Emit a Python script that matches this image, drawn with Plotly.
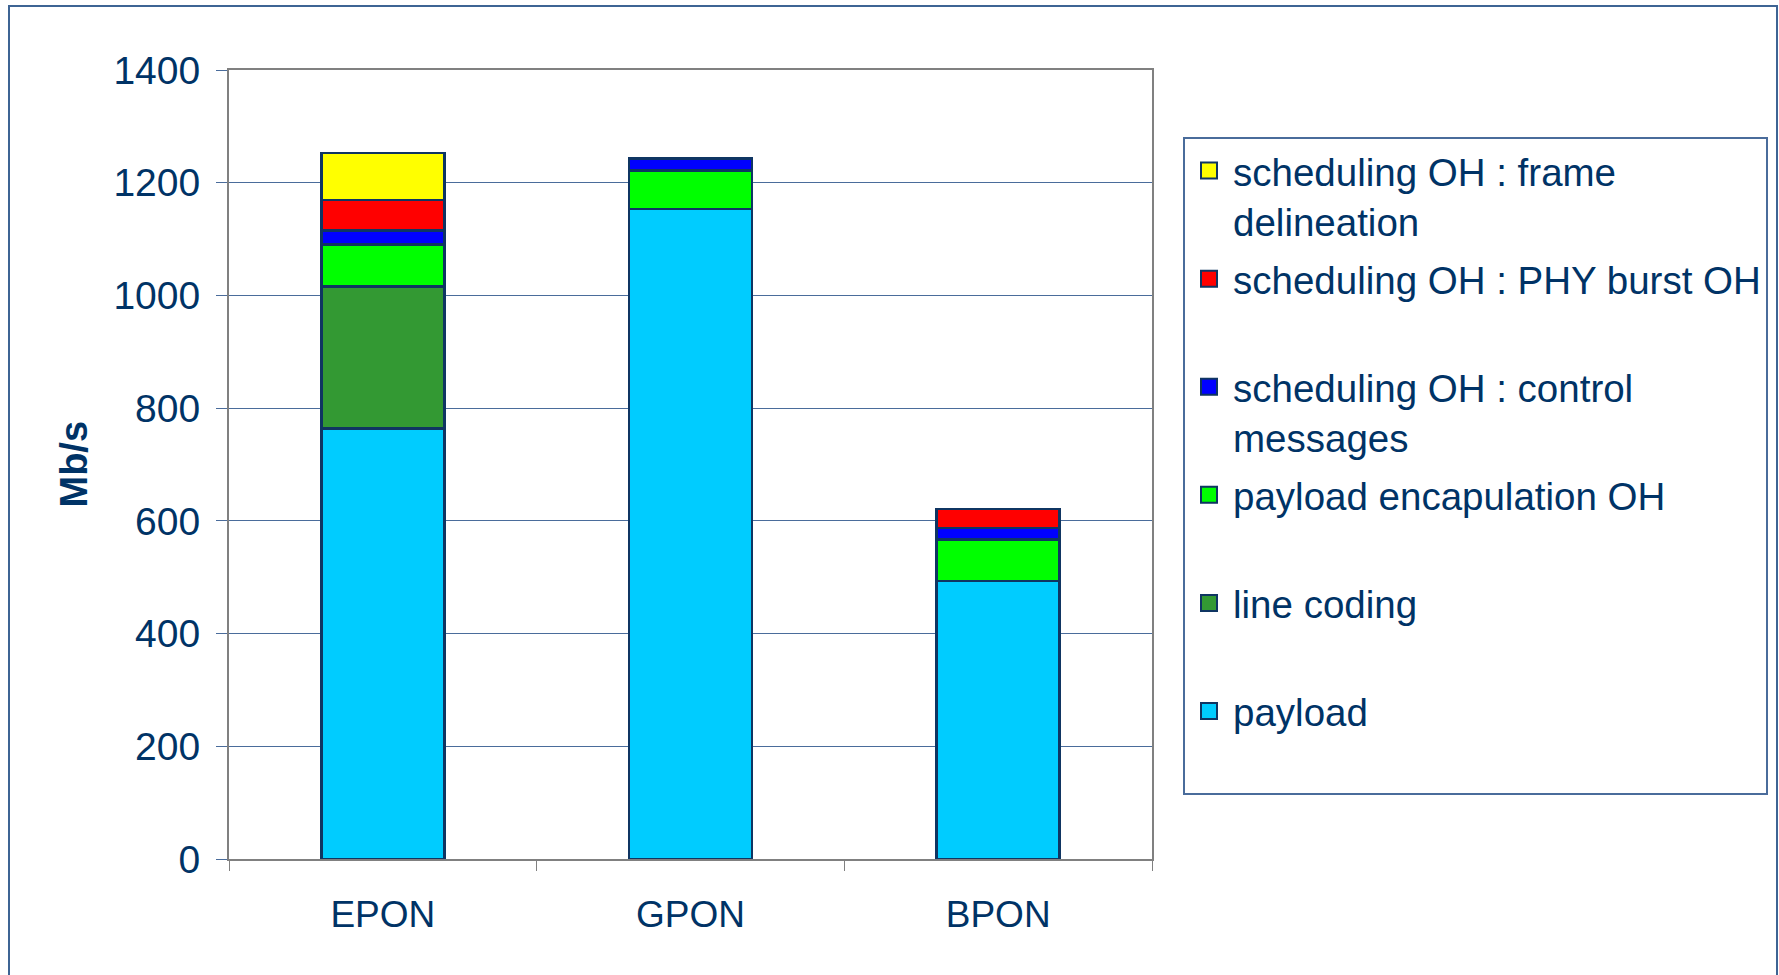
import plotly.graph_objects as go

categories = ["EPON", "GPON", "BPON"]

payload = [764, 1153, 493]
line_coding = [252, None, None]
payload_encap_oh = [74, 69, 74]
control_messages = [25, 21, 20]
phy_burst_oh = [54, None, 34]
frame_delineation = [84, None, None]

series = [
    ("payload<br> ", payload, "#00CCFF"),
    ("line coding<br> ", line_coding, "#339933"),
    ("payload encapulation OH<br> ", payload_encap_oh, "#00FF00"),
    ("scheduling OH : control<br>messages", control_messages, "#0000FF"),
    ("scheduling OH : PHY burst OH<br> ", phy_burst_oh, "#FF0000"),
    ("scheduling OH : frame<br>delineation", frame_delineation, "#FFFF00"),
]

TEXT = "#003366"
FONT = "Liberation Sans, Arial, sans-serif"
EDGE = "#0F3562"

fig = go.Figure()
n = len(series)
for i, (name, vals, col) in enumerate(series):
    fig.add_trace(go.Bar(
        x=categories, y=vals, name=name, legendgroup=f"g{i}",
        showlegend=False,
        marker=dict(color=col, line=dict(color=EDGE, width=2.5)),
    ))
# legend entries (square swatches like the original)
for i, (name, vals, col) in enumerate(series):
    fig.add_trace(go.Scatter(
        x=[categories[0]], y=[None], mode="markers", name=name,
        legendgroup=f"g{i}", legendrank=n - i, hoverinfo="skip",
        marker=dict(symbol="square", size=16, color=col,
                    line=dict(color=EDGE, width=2)),
    ))

W, H = 1779, 975
L, R, T, B = 229, 1152, 70, 859
pw, ph = R - L, B - T

def px(x):
    return (x - L) / pw

def py(y):
    return (B - y) / ph

fig.update_layout(
    width=W, height=H,
    margin=dict(l=L, r=W - R, t=T, b=H - B, autoexpand=False),
    barmode="stack", bargap=0.6,
    plot_bgcolor="white", paper_bgcolor="white",
    font=dict(family=FONT, color=TEXT, size=37),
    showlegend=True,
    legend=dict(
        x=px(1183), y=py(137), xanchor="left", yanchor="top",
        traceorder="grouped", tracegroupgap=5, valign="top",
        itemwidth=38,
        bordercolor="#4A6C9B", borderwidth=2, bgcolor="white",
        font=dict(family=FONT, color=TEXT, size=38.5),
    ),
    xaxis=dict(
        showline=True, linecolor="#808080", linewidth=2, mirror=True,
        ticks="outside", tickson="boundaries", ticklen=10, tickcolor="#808080",
        ticklabelstandoff=22,
        tickfont=dict(family=FONT, color=TEXT, size=37),
        showgrid=False,
    ),
    yaxis=dict(
        range=[0, 1400], dtick=200,
        showline=True, linecolor="#808080", linewidth=2, mirror=True,
        ticks="outside", ticklen=11, tickcolor="#4A6C9B",
        ticklabelstandoff=8,
        showgrid=True, gridcolor="#4A6C9B", gridwidth=1,
        tickfont=dict(family=FONT, color=TEXT, size=39),
        zeroline=False,
    ),
    annotations=[dict(
        text="<b>Mb/s</b>", x=px(73), y=0.5, xref="paper", yref="paper",
        xanchor="center", yanchor="middle", textangle=-90, showarrow=False,
        font=dict(family=FONT, color=TEXT, size=38),
    )],
    shapes=[dict(
        type="rect", xref="paper", yref="paper",
        x0=px(9), x1=px(1777), y0=py(1000), y1=py(6),
        line=dict(color="#3E6494", width=2), layer="below",
    )],
)

fig.write_html("out.html", config={"displayModeBar": False},
               post_script="document.body.style.margin='0';")
